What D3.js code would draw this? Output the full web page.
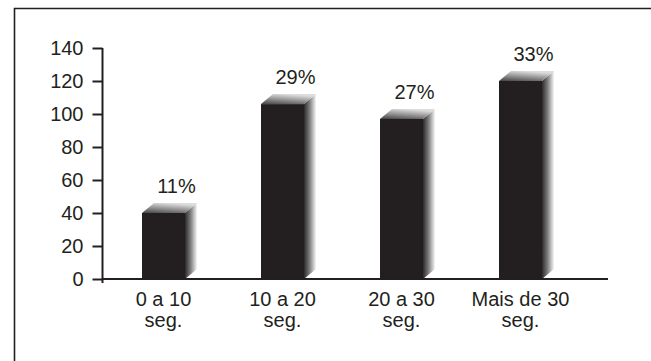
<!DOCTYPE html>
<html>
<head>
<meta charset="utf-8">
<script src="https://cdn.jsdelivr.net/npm/d3@7"></script>
<style>
  html, body { margin: 0; padding: 0; background: #fff; }
  svg { display: block; }
  text { font-family: "Liberation Sans", Arial, Helvetica, sans-serif; fill: #231f20; }
</style>
</head>
<body>
<svg id="chart" width="651" height="361"></svg>
<script>
// ---- data ----
const categories = [["0 a 10", "seg."], ["10 a 20", "seg."], ["20 a 30", "seg."], ["Mais de 30", "seg."]];
const values = [40, 106, 97, 120];
const percentLabels = ["11%", "29%", "27%", "33%"];
const yTicks = [0, 20, 40, 60, 80, 100, 120, 140];

// ---- layout ----
const W = 651, H = 361;
const ink = "#231f20";
const svg = d3.select("#chart");
const keys = categories.map(c => c.join(" "));

const y = d3.scaleLinear().domain([0, 140]).range([279, 48]);
const x = d3.scalePoint().domain(keys).range([104, 580]).padding(0.5);
const axisX = 102.5, axisEnd = 608;
const barW = 43, dx = 12, dy = -10;

// frame
svg.append("path")
  .attr("d", `M14.5,${H} L14.5,8.5 L${W},8.5`)
  .attr("fill", "none").attr("stroke", ink).attr("stroke-width", 1.6);

// gradients
const defs = svg.append("defs");
const gSide = defs.append("linearGradient").attr("id", "gSide")
  .attr("x1", 0).attr("y1", 0).attr("x2", 1).attr("y2", 0);
gSide.append("stop").attr("offset", 0).attr("stop-color", "#2b2b2b");
gSide.append("stop").attr("offset", 0.45).attr("stop-color", "#7a7a7a");
gSide.append("stop").attr("offset", 1).attr("stop-color", "#f6f6f6");
const gTop = defs.append("linearGradient").attr("id", "gTop")
  .attr("x1", 0).attr("y1", 1).attr("x2", 0.4).attr("y2", 0);
gTop.append("stop").attr("offset", 0).attr("stop-color", "#444");
gTop.append("stop").attr("offset", 1).attr("stop-color", "#dcdcdc");

// bars
const bars = svg.append("g").selectAll("g").data(values).join("g");
bars.each(function(v, i) {
  const g = d3.select(this);
  const cx = x(keys[i]);
  const x0 = cx - barW / 2, x1 = cx + barW / 2;
  const yt = y(v), yb = y(0);
  g.append("path")
    .attr("d", `M${x1},${yb} L${x1 + dx},${yb + dy} L${x1 + dx},${yt + dy} L${x1},${yt} Z`)
    .attr("fill", "url(#gSide)");
  g.append("path")
    .attr("d", `M${x0},${yt} L${x0 + dx},${yt + dy} L${x1 + dx},${yt + dy} L${x1},${yt} Z`)
    .attr("fill", "url(#gTop)");
  g.append("rect")
    .attr("x", x0).attr("y", yt).attr("width", barW).attr("height", yb - yt)
    .attr("fill", ink);
  g.append("text")
    .attr("x", cx + 13).attr("y", yt - 20)
    .attr("text-anchor", "middle").attr("font-size", 20)
    .text(percentLabels[i]);
});

// x baseline
svg.append("line")
  .attr("x1", axisX).attr("x2", axisEnd).attr("y1", y(0)).attr("y2", y(0))
  .attr("stroke", ink).attr("stroke-width", 2);

// y axis
const yAxis = d3.axisLeft(y).tickValues(yTicks).tickSize(10).tickSizeOuter(0).tickPadding(9);
const ya = svg.append("g").attr("transform", `translate(${axisX},0)`).call(yAxis);
ya.select(".domain").attr("stroke", ink).attr("stroke-width", 2)
  .attr("d", `M0,${y(140)}V${y(0) + 4}`);
ya.selectAll(".tick line").attr("stroke", ink).attr("stroke-width", 2);
ya.selectAll(".tick text")
  .attr("font-size", 20).attr("font-family", "Liberation Sans, Arial, sans-serif")
  .attr("fill", ink);

// category labels
const cat = svg.append("g").selectAll("text").data(categories).join("text")
  .attr("text-anchor", "middle").attr("font-size", 20)
  .attr("x", (d, i) => x(keys[i])).attr("y", 306);
cat.each(function(lines, i) {
  d3.select(this).selectAll("tspan").data(lines).join("tspan")
    .attr("x", x(keys[i])).attr("dy", (d, j) => j === 0 ? 0 : 21)
    .text(d => d);
});
</script>
</body>
</html>
